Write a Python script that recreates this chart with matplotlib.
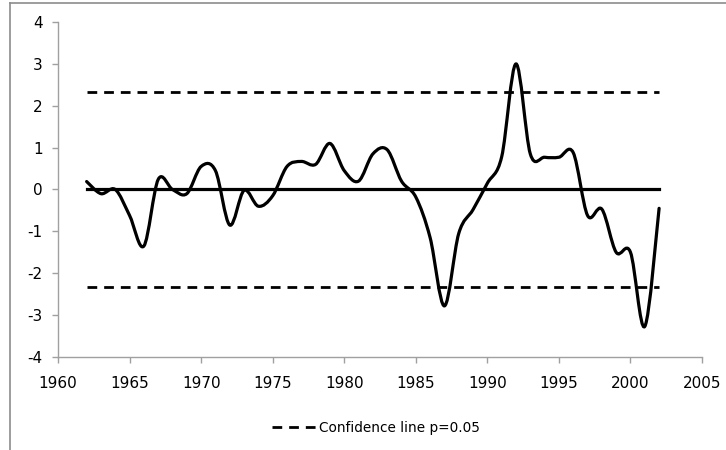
import matplotlib
matplotlib.use('Agg')
import matplotlib.pyplot as plt
from matplotlib.path import Path
from matplotlib.patches import PathPatch
from matplotlib.lines import Line2D

plt.rcParams['font.family'] = ['Liberation Sans Narrow', 'DejaVu Sans']
plt.rcParams['lines.scale_dashes'] = False
plt.rcParams['axes.unicode_minus'] = False

# data
years = list(range(1962, 2003))
values = [0.19, -0.10, 0.00, -0.62, -1.35, 0.24, 0.00, -0.10, 0.55, 0.45,
          -0.85, -0.02, -0.40, -0.15, 0.55, 0.67, 0.60, 1.10, 0.45, 0.20,
          0.85, 0.95, 0.20, -0.18, -1.15, -2.78, -1.05, -0.48, 0.15, 0.78,
          3.00, 0.85, 0.77, 0.77, 0.88, -0.62, -0.47, -1.50, -1.50, -3.27,
          -0.45]
conf_level = 2.33
xticks = [1960, 1965, 1970, 1975, 1980, 1985, 1990, 1995, 2000, 2005]
yticks = [-4, -3, -2, -1, 0, 1, 2, 3, 4]

fig = plt.figure(figsize=(7.26, 4.5), dpi=100)
ax = fig.add_axes([0.0799, 0.2067, 0.8871, 0.7444])

# smoothed line like the spreadsheet (Bezier through every point)
verts = [(years[0], values[0])]
codes = [Path.MOVETO]
n = len(years)
for i in range(n - 1):
    x0, y0 = years[max(i - 1, 0)], values[max(i - 1, 0)]
    x1, y1 = years[i], values[i]
    x2, y2 = years[i + 1], values[i + 1]
    x3, y3 = years[min(i + 2, n - 1)], values[min(i + 2, n - 1)]
    c1 = (x1 + (x2 - x0) / 6, y1 + (y2 - y0) / 6)
    c2 = (x2 - (x3 - x1) / 6, y2 - (y3 - y1) / 6)
    verts += [c1, c2, (x2, y2)]
    codes += [Path.CURVE4] * 3
ax.add_patch(PathPatch(Path(verts, codes), facecolor='none', edgecolor='black',
                       lw=2.3, capstyle='round', joinstyle='round'))

# zero line and confidence lines
ax.plot([years[0], years[-1]], [0, 0], color='black', lw=2.3)
ax.plot([years[0], years[-1]], [conf_level, conf_level], color='black', lw=2.0,
        dashes=(7.0, 5.0))
ax.plot([years[0], years[-1]], [-conf_level, -conf_level], color='black', lw=2.0,
        dashes=(7.0, 5.0))

ax.set_xlim(1960, 2005)
ax.set_ylim(-4, 4)
ax.set_xticks(xticks)
ax.set_yticks(yticks)
ax.tick_params(axis='both', direction='out', length=4, width=1, color='#a0a0a0',
               labelsize=11, labelcolor='black')
ax.tick_params(axis='x', pad=10)
ax.tick_params(axis='y', pad=7)
for side in ['top', 'right']:
    ax.spines[side].set_visible(False)
for side in ['left', 'bottom']:
    ax.spines[side].set_color('#a0a0a0')
    ax.spines[side].set_linewidth(1)

handle = Line2D([], [], color='black', lw=2.0, dashes=(7.0, 5.0))
fig.legend([handle], ['Confidence line p=0.05'], loc='center',
           bbox_to_anchor=(0.518, 0.049), frameon=False, fontsize=9.8,
           handlelength=3.2, handletextpad=0.2)

# chart area border (left and top edges visible in the crop)
fig.add_artist(Line2D([10 / 726, 10 / 726], [0, 1 - 3 / 450], color='#8c8c8c', lw=1.2,
                      transform=fig.transFigure))
fig.add_artist(Line2D([10 / 726, 1], [1 - 3 / 450, 1 - 3 / 450], color='#8c8c8c', lw=1.2,
                      transform=fig.transFigure))

fig.savefig('out.png', dpi=100)
